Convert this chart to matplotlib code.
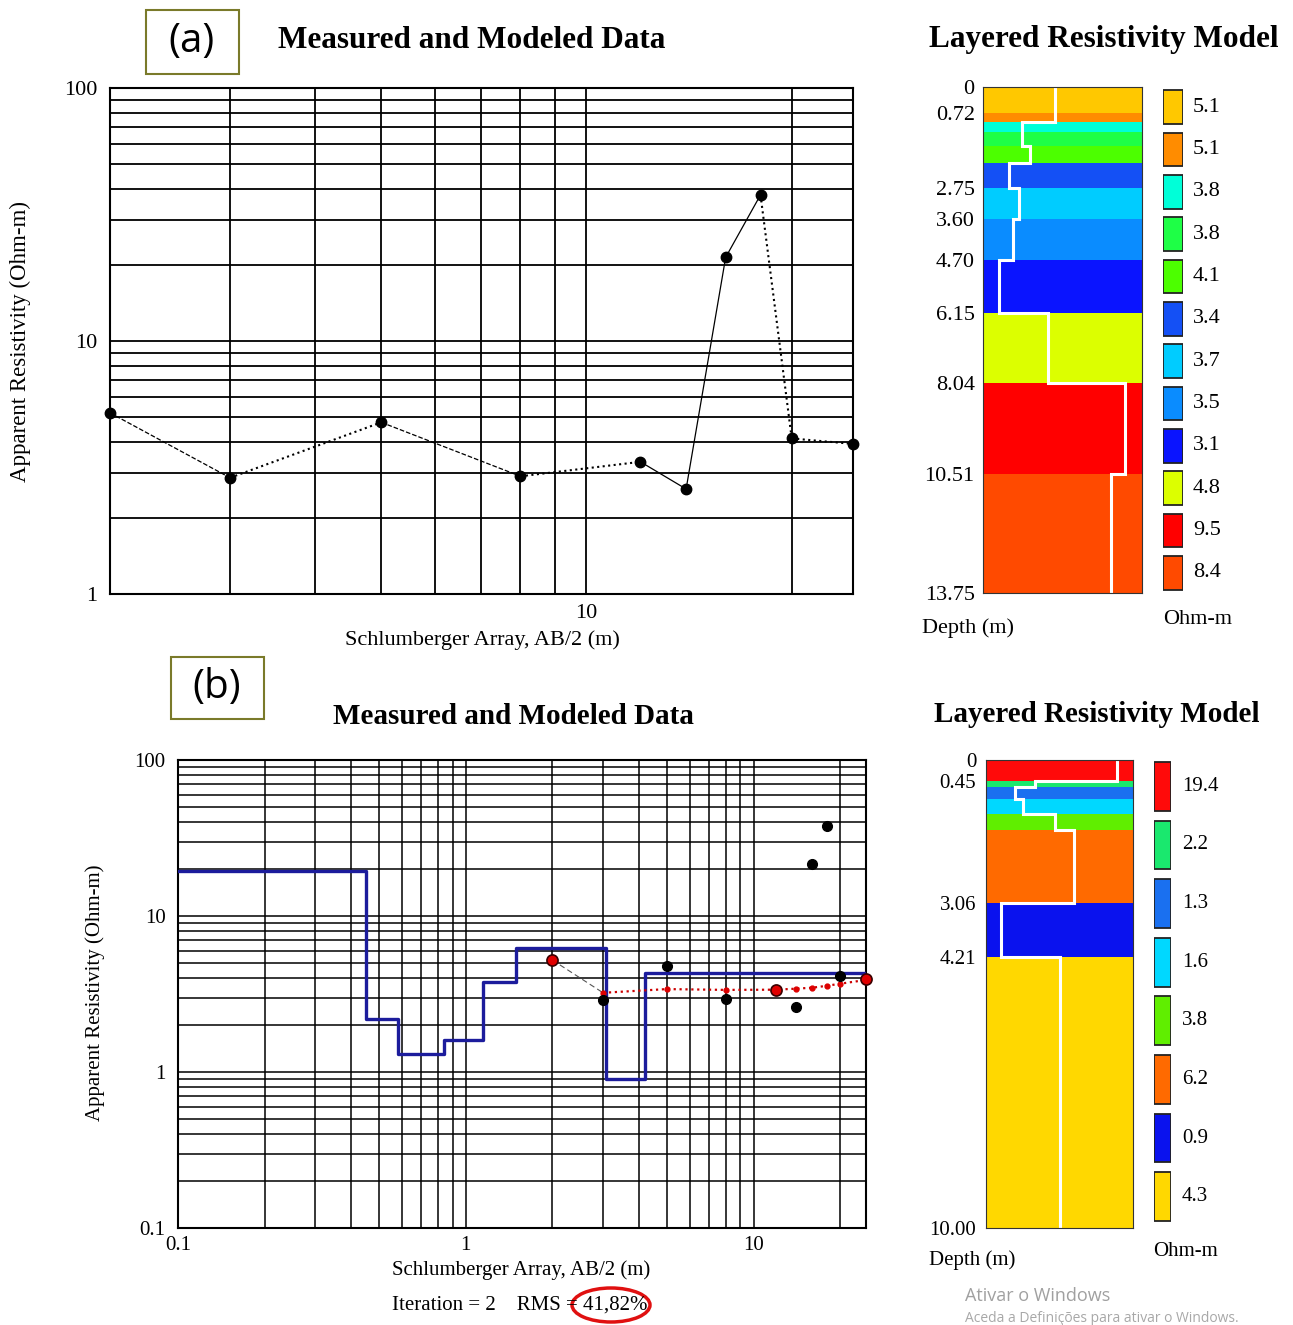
import numpy as np
import matplotlib
matplotlib.use('Agg')
import matplotlib.pyplot as plt
from matplotlib.ticker import LogLocator, NullFormatter, FuncFormatter, NullLocator
from matplotlib.patches import Rectangle, Ellipse

plt.rcParams['font.family'] = ['Liberation Serif', 'DejaVu Serif']

W, H = 1293, 1325

# ---------------- data ----------------
ab2 = [2, 3, 5, 8, 12, 14, 16, 18, 20, 24.6]
rho_meas = [5.2, 2.88, 4.77, 2.92, 3.33, 2.6, 21.4, 37.8, 4.12, 3.92]
seg_styles_a = ['--', ':', '--', ':', '-', '-', '-', ':', ':']

depth_a = [0, 0.72, 0.94, 1.21, 1.60, 2.07, 2.75, 3.60, 4.70, 6.15, 8.04, 10.51, 13.75]
rho_a = [5.1, 5.1, 3.8, 3.8, 4.1, 3.4, 3.7, 3.5, 3.1, 4.8, 9.5, 8.4]
colors_a = ['#FFC800', '#FF8C00', '#00FFD8', '#1EFF46', '#4CFF00', '#1450F5',
            '#00CCFF', '#0A8CFF', '#0A14FF', '#DCFF00', '#FF0000', '#FF4A00']
depth_ticks_a = [0, 0.72, 2.75, 3.60, 4.70, 6.15, 8.04, 10.51, 13.75]
depth_labels_a = ['0', '0.72', '2.75', '3.60', '4.70', '6.15', '8.04', '10.51', '13.75']
legend_labels_a = ['5.1', '5.1', '3.8', '3.8', '4.1', '3.4', '3.7', '3.5', '3.1', '4.8', '9.5', '8.4']

depth_b = [0, 0.45, 0.58, 0.84, 1.15, 1.49, 3.06, 4.21, 10.0]
rho_b = [19.4, 2.2, 1.3, 1.6, 3.8, 6.2, 0.9, 4.3]
colors_b = ['#FF0A0A', '#1AE86E', '#1A70F0', '#00D8FF', '#60EE00', '#FF6A00', '#0A12EE', '#FFD800']
depth_ticks_b = [0, 0.45, 3.06, 4.21, 10.0]
depth_labels_b = ['0', '0.45', '3.06', '4.21', '10.00']
legend_labels_b = ['19.4', '2.2', '1.3', '1.6', '3.8', '6.2', '0.9', '4.3']

rho_calc = [5.22, 3.22, 3.40, 3.36, 3.37, 3.42, 3.47, 3.57, 3.68, 3.89]
highlight_idx = [0, 4, 9]

# ---------------- figure ----------------
fig = plt.figure(figsize=(W / 100, H / 100), dpi=100)
fig.patch.set_facecolor('white')


def px_axes(l, t, r, b):
    return fig.add_axes([l / W, 1 - b / H, (r - l) / W, (b - t) / H])


def ftext(x, y, s, **kw):
    return fig.text(x / W, 1 - y / H, s, **kw)


def setup_log(ax, xlim, ylim, fs, xpad, ypad, glw):
    ax.set_xscale('log')
    ax.set_yscale('log')
    ax.set_xlim(*xlim)
    ax.set_ylim(*ylim)
    for axis in (ax.xaxis, ax.yaxis):
        axis.set_major_locator(LogLocator(base=10))
        axis.set_minor_locator(LogLocator(base=10, subs=np.arange(2, 10)))
        axis.set_minor_formatter(NullFormatter())
        axis.set_major_formatter(FuncFormatter(lambda v, p: '%g' % v))
    ax.set_axisbelow(True)
    ax.grid(True, which='both', color='black', lw=glw)
    ax.tick_params(which='both', length=0, labelsize=fs)
    ax.tick_params(axis='x', pad=xpad)
    ax.tick_params(axis='y', pad=ypad)
    for s in ax.spines.values():
        s.set_linewidth(1.5)


def column(ax, depth, rho, colors, ticks, labels, fs, pad):
    lo, hi = np.log10(min(rho)), np.log10(max(rho))
    span = hi - lo
    ax.set_xscale('log')
    ax.set_xlim(10 ** (lo - 0.127 * span), 10 ** (hi + 0.138 * span))
    ax.set_ylim(depth[-1], depth[0])
    for i in range(len(rho)):
        ax.axhspan(depth[i], depth[i + 1], color=colors[i], lw=0)
    xs = np.repeat(rho, 2)
    ys = np.column_stack([depth[:-1], depth[1:]]).ravel()
    ax.plot(xs, ys, color='white', lw=2.2, solid_joinstyle='miter')
    ax.set_yticks(ticks)
    ax.set_yticklabels(labels)
    ax.xaxis.set_major_locator(NullLocator())
    ax.xaxis.set_minor_locator(NullLocator())
    ax.yaxis.set_minor_locator(NullLocator())
    ax.tick_params(which='both', length=0, labelsize=fs, pad=pad)
    for s in ax.spines.values():
        s.set_linewidth(0.8)
        s.set_color('#333333')


def legend_col(ax, colors, labels, fs, hgt, xlab):
    n = len(colors)
    ax.set_xlim(0, 1)
    ax.set_ylim(n - 0.5, -0.5)
    ax.barh(range(n), 1, left=0, height=hgt, color=colors, edgecolor='#222222', lw=1.3)
    for i, lab in enumerate(labels):
        ax.text(xlab, i, lab, fontsize=fs, va='center', ha='left', clip_on=False)
    ax.axis('off')


# ---------------- panel (a) ----------------
axa = px_axes(110, 88, 853, 594)
setup_log(axa, (2, 24.6), (1, 100), 16, 7, 9, 1.3)
for i, ls in enumerate(seg_styles_a):
    lw = 1.5 if ls == ':' else 0.9
    axa.plot(ab2[i:i + 2], rho_meas[i:i + 2], color='black', ls=ls, lw=lw)
axa.plot(ab2, rho_meas, 'o', color='black', ms=7.5, clip_on=False, zorder=5)

ftext(472, 40, 'Measured and Modeled Data', fontsize=22.5, fontweight='bold', ha='center', va='center')
ftext(1104, 39, 'Layered Resistivity Model', fontsize=22.5, fontweight='bold', ha='center', va='center')
ftext(20, 341, 'Apparent Resistivity (Ohm-m)', fontsize=16.5, rotation=90, ha='center', va='center')
ftext(482, 640, 'Schlumberger Array, AB/2 (m)', fontsize=16, ha='center', va='center')

fig.add_artist(Rectangle((146 / W, 1 - 74 / H), 93 / W, 64 / H, transform=fig.transFigure,
                         fill=False, edgecolor='#7a7a2a', lw=1.5))
ftext(192, 42, '(a)', fontsize=29, family=['Open Sans', 'DejaVu Sans'], ha='center', va='center')

cola = px_axes(983, 87, 1142, 593)
column(cola, depth_a, rho_a, colors_a, depth_ticks_a, depth_labels_a, 16, 6)
lega = px_axes(1163, 86, 1183, 594)
legend_col(lega, colors_a, legend_labels_a, 16, 0.8, 1.5)
ftext(968, 628, 'Depth (m)', fontsize=16, ha='center', va='center')
ftext(1198, 620, 'Ohm-m', fontsize=16, ha='center', va='center')

# ---------------- panel (b) ----------------
axb = px_axes(178, 760, 866, 1228)
setup_log(axb, (0.1, 24.6), (0.1, 100), 15, 6, 9, 1.1)
xb = [axb.get_xlim()[0]] + depth_b[1:-1] + [axb.get_xlim()[1]]
yb = rho_b + [rho_b[-1]]
axb.step(xb, yb, where='post', color='#1c1c9c', lw=2.4, zorder=3)
axb.plot(ab2[:2], rho_calc[:2], color='#555555', lw=0.8, ls=(0, (5, 3)), zorder=4)
axb.plot(ab2[1:], rho_calc[1:], color='#cc0000', lw=1.6, ls=':', zorder=4)
axb.plot(ab2[1:-1], rho_calc[1:-1], 'o', color='#dd0000', ms=3.5, zorder=4)
axb.plot(ab2, rho_meas, 'o', color='black', ms=7, zorder=5, clip_on=False)
axb.plot([ab2[i] for i in highlight_idx], [rho_meas[i] for i in highlight_idx], 'o',
         mfc='#e00000', mec='#3a0000', mew=1.2, ms=8, zorder=6, clip_on=False)

ftext(513, 716, 'Measured and Modeled Data', fontsize=21, fontweight='bold', ha='center', va='center')
ftext(1097, 715, 'Layered Resistivity Model', fontsize=21, fontweight='bold', ha='center', va='center')
ftext(95, 993, 'Apparent Resistivity (Ohm-m)', fontsize=15, rotation=90, ha='center', va='center')
ftext(521, 1270, 'Schlumberger Array, AB/2 (m)', fontsize=15, ha='center', va='center')
ftext(392, 1305, 'Iteration = 2    RMS = 41,82%', fontsize=15, ha='left', va='center')
fig.add_artist(Ellipse((611 / W, 1 - 1305 / H), 78 / W, 34 / H, transform=fig.transFigure,
                       fill=False, edgecolor='#e01010', lw=2.5))

fig.add_artist(Rectangle((171 / W, 1 - 719 / H), 93 / W, 62 / H, transform=fig.transFigure,
                         fill=False, edgecolor='#7a7a2a', lw=1.5))
ftext(217, 688, '(b)', fontsize=29, family=['Open Sans', 'DejaVu Sans'], ha='center', va='center')

colb = px_axes(986, 760, 1133, 1228)
column(colb, depth_b, rho_b, colors_b, depth_ticks_b, depth_labels_b, 15, 7)
legb = px_axes(1154, 757, 1171, 1226)
legend_col(legb, colors_b, legend_labels_b, 15, 0.83, 1.65)
ftext(972, 1260, 'Depth (m)', fontsize=15, ha='center', va='center')
ftext(1185, 1251, 'Ohm-m', fontsize=15, ha='center', va='center')

ftext(965, 1296, 'Ativar o Windows', fontsize=13, color='#a0a0a0',
      family=['Open Sans', 'DejaVu Sans'], ha='left', va='center')
ftext(965, 1319, 'Aceda a Definições para ativar o Windows.', fontsize=10, color='#a8a8a8',
      family=['Open Sans', 'DejaVu Sans'], ha='left', va='center')

fig.savefig('out.png', dpi=100, facecolor='white')
